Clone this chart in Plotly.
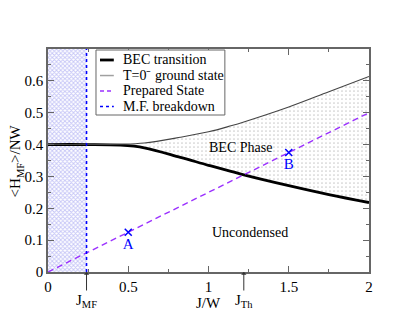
import plotly.graph_objects as go

# ---- data ----
J = [0.0, 0.24, 0.45, 0.6, 0.825, 1.0, 1.14, 1.22, 1.5, 1.75, 2.0]
bec_transition = [0.4, 0.4, 0.398, 0.39, 0.36, 0.335, 0.316, 0.305, 0.271, 0.243, 0.218]
ground_state = [0.4, 0.4, 0.401, 0.405, 0.423, 0.44, 0.459, 0.471, 0.518, 0.566, 0.614]
prepared_J = [0.0, 2.0]
prepared_E = [0.0, 0.5]
j_mf = 0.24
j_th = 1.22
y_max = 0.7
points_J = [0.5, 1.5]
points_E = [0.125, 0.375]
points_lbl = ["A", "B"]
legend_names = ["BEC transition", "T=0\u207b ground state", "Prepared State", "M.F. breakdown"]

FONT = "Liberation Serif"
C_BEC = "black"
C_GS = "#444444"
C_GS_LEG = "#a0a0a0"
C_PREP = "#9b30ff"
C_MF = "#0000ff"

fig = go.Figure()

# hatched mean-field breakdown region
fig.add_trace(go.Scatter(
    x=[0, j_mf, j_mf, 0, 0], y=[0, 0, y_max, y_max, 0],
    mode="none", fill="toself", fillcolor="rgba(255,255,255,0)",
    fillpattern=dict(shape="x", size=3, solidity=0.5, fgcolor="#8c8cee", bgcolor="white"),
    showlegend=False, hoverinfo="skip"))

# BEC transition + shaded BEC phase
fig.add_trace(go.Scatter(x=J, y=bec_transition, mode="lines", name=legend_names[0],
                         line=dict(color=C_BEC, width=2.8, shape="spline"), showlegend=False))
fig.add_trace(go.Scatter(x=J, y=ground_state, mode="lines", name=legend_names[1],
                         line=dict(color=C_GS, width=1.1, shape="spline"),
                         fill="tonexty", fillcolor="rgba(255,255,255,0)",
                         fillpattern=dict(shape=".", size=4, solidity=0.15, fgcolor="#999999"),
                         showlegend=False))

fig.add_trace(go.Scatter(x=prepared_J, y=prepared_E, mode="lines", name=legend_names[2],
                         line=dict(color=C_PREP, width=1.4, dash="6px,4px"), showlegend=False))
fig.add_trace(go.Scatter(x=[j_mf, j_mf], y=[0, y_max], mode="lines", name=legend_names[3],
                         line=dict(color=C_MF, width=1.6, dash="dot"), showlegend=False))

fig.add_trace(go.Scatter(x=points_J, y=points_E, mode="markers+text", text=points_lbl,
                         textposition="bottom center",
                         textfont=dict(family=FONT, size=15, color=C_MF),
                         marker=dict(symbol="x-thin", size=7, line=dict(color=C_MF, width=1.5)),
                         showlegend=False))

axis_common = dict(showgrid=False, zeroline=False, showline=True, linecolor="#666666", linewidth=1.5,
                   mirror="ticks", ticks="inside", ticklen=6, tickcolor="#666666", automargin=False,
                   tickfont=dict(family=FONT, size=15, color="black"))

fig.update_xaxes(range=[0, 2], tickvals=[0, 0.5, 1, 1.5, 2], ticktext=["0", "0.5", "1", "1.5", "2"],
                 minor=dict(dtick=0.25, ticks="inside", ticklen=3, tickcolor="#666666"),
                 **axis_common)
fig.update_yaxes(range=[0, 0.7], tickvals=[0, 0.1, 0.2, 0.3, 0.4, 0.5, 0.6],
                 ticktext=["0", "0.1", "0.2", "0.3", "0.4", "0.5", "0.6"],
                 minor=dict(dtick=0.05, ticks="inside", ticklen=3, tickcolor="#666666"),
                 **axis_common)

annotations = [
    dict(x=1.2, y=0.39, text="BEC Phase", showarrow=False, font=dict(family=FONT, size=14, color="black")),
    dict(x=1.256, y=0.125, text="Uncondensed", showarrow=False, font=dict(family=FONT, size=14, color="black")),
    dict(x=1.0, y=0, yref="y", text="J/W", showarrow=False, yshift=-31,
         font=dict(family=FONT, size=15, color="black")),
    dict(x=j_mf, y=0, text="J<sub>MF</sub>", showarrow=True, ax=0, ay=29, arrowhead=1, arrowsize=0.9,
         arrowwidth=1, arrowcolor="#333333", font=dict(family=FONT, size=15, color="black")),
    dict(x=j_th, y=0, text="J<sub>Th</sub>", showarrow=True, ax=0, ay=29, arrowhead=1, arrowsize=0.9,
         arrowwidth=1, arrowcolor="#333333", font=dict(family=FONT, size=15, color="black")),
    dict(x=-0.1, xref="paper", y=0.5, yref="paper", text="&lt;H<sub>MF</sub>&gt;/NW", textangle=-90,
         xanchor="center", yanchor="middle",
         showarrow=False, font=dict(family=FONT, size=15, color="black")),
]

# compact boxed legend (as in the reference) drawn in paper coordinates
shapes = [dict(type="rect", xref="paper", yref="paper", x0=0.1495, x1=0.551, y0=0.704, y1=0.9955,
               line=dict(color="#666666", width=1), fillcolor="white", layer="above")]
leg_rows = [0.9507, 0.881, 0.8117, 0.742]
leg_styles = [dict(color=C_BEC, width=2.8), dict(color=C_GS_LEG, width=1.5),
              dict(color=C_PREP, width=1.5, dash="4px,3px"), dict(color=C_MF, width=1.5, dash="dot")]
for yy, st, nm in zip(leg_rows, leg_styles, legend_names):
    shapes.append(dict(type="line", xref="paper", yref="paper", x0=0.162, x1=0.205, y0=yy, y1=yy,
                       line=st, layer="above"))
    annotations.append(dict(x=0.23, y=yy, xref="paper", yref="paper", text=nm, showarrow=False,
                            xanchor="left", yanchor="middle", borderpad=0,
                            font=dict(family=FONT, size=14, color="black")))

# page body has an 8px margin: size the figure so it fits in the 415x321 window
fig.update_layout(
    width=399, height=305,
    margin=dict(l=40, r=38, t=41, b=41),
    font=dict(family=FONT, size=14, color="black"),
    plot_bgcolor="white", paper_bgcolor="white",
    annotations=annotations, shapes=shapes,
    showlegend=False,
)

fig.write_html("out.html")
